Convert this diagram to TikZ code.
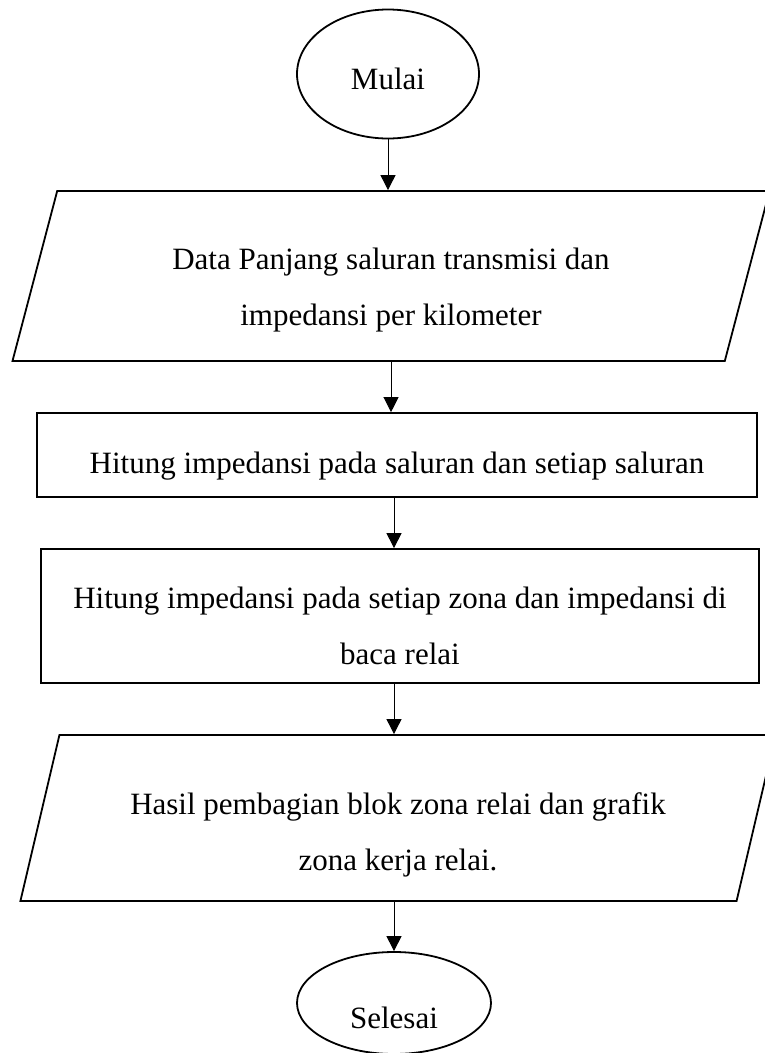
\documentclass[tikz,border=0pt]{standalone}
\usepackage{fontspec}
\setmainfont{Liberation Serif}
\usetikzlibrary{shapes.geometric, arrows.meta}
\tikzset{>={Triangle[length=15pt,width=15pt]}}
\tikzset{
  terminal/.style={ellipse, draw, line width=1.8pt, inner sep=0pt},
  inout/.style={trapezium, trapezium left angle=76, trapezium right angle=104,
    trapezium stretches=true, draw, line width=1.8pt, align=center},
  process/.style={rectangle, draw, line width=1.8pt, align=center},
  flow/.style={->, line width=1pt}
}
% invisible strut that lowers the text in its box
\newcommand{\textdrop}[1]{\rule{0pt}{\dimexpr 28pt+#1\relax}}

\begin{document}
\begin{tikzpicture}[x=1pt, y=-1pt, font=\fontsize{31}{56}\selectfont]
\useasboundingbox (0,0) rectangle (765,1053);
% shapes
\node[terminal, minimum width=182pt, minimum height=129pt] (mulai) at (388,74) {\textdrop{4pt}Mulai};
\node[inout, minimum width=758pt, minimum height=170pt] (data) at (391,276)
  {\textdrop{22pt}Data Panjang saluran transmisi dan\\impedansi per kilometer};
\node[process, minimum width=720pt, minimum height=84pt] (saluran) at (397,455)
  {\textdrop{16pt}Hitung impedansi pada saluran dan setiap saluran};
\node[process, minimum width=718pt, minimum height=134pt] (zona) at (400,616)
  {\textdrop{14pt}Hitung impedansi pada setiap zona dan impedansi di\\baca relai};
\node[inout, minimum width=758pt, minimum height=166pt] (hasil) at (398,818)
  {\textdrop{28pt}Hasil pembagian blok zona relai dan grafik\\zona kerja relai.};
\node[terminal, minimum width=194pt, minimum height=102pt] (selesai) at (394,1003) {\textdrop{24pt}Selesai};
% arrows
\draw[flow] (mulai.south) -- (mulai.south |- data.north);
\draw[flow] (data.south) -- (data.south |- saluran.north);
\draw[flow] ([xshift=-3pt]saluran.south) -- ([xshift=-3pt]saluran.south |- zona.north);
\draw[flow] ([xshift=-6pt]zona.south) -- ([xshift=-6pt]zona.south |- hasil.north);
\draw[flow] (selesai.north |- hasil.south) -- (selesai.north);
\end{tikzpicture}
\end{document}
